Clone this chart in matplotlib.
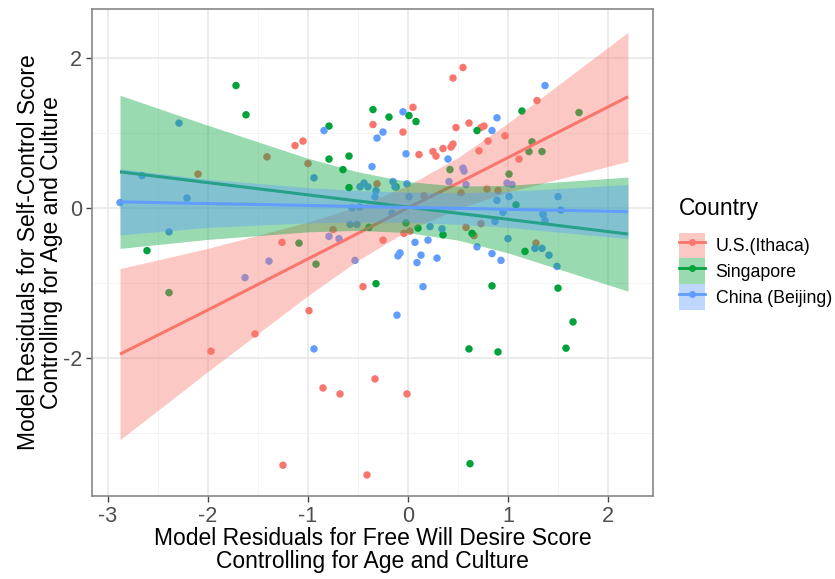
import matplotlib
matplotlib.use("Agg")
import matplotlib.pyplot as plt
from matplotlib.patches import Patch
from matplotlib.lines import Line2D
from matplotlib.ticker import MultipleLocator

plt.rcParams['font.family'] = ['Liberation Sans', 'DejaVu Sans']
plt.rcParams['axes.unicode_minus'] = False

countries = ["U.S.(Ithaca)", "Singapore", "China (Beijing)"]
colors = ["#F8766D", "#00A33A", "#619CFF"]

us_x = [-2.10, -1.41, -1.13, -1.05, -1.00, -0.35, -0.31, 0.05, -0.05, 0.11, 0.25, 0.28, 0.16,
        0.45, 0.55, 1.29, 0.61, 0.73, 0.76, 0.48, 0.97, 0.80, 0.45, 0.43, 0.35, 0.71, 1.11,
        0.79, 0.90, 0.53, -1.53, -1.97, -1.26, -0.75, -0.25, -0.45, -0.99, -0.04, 0.02, 0.58,
        0.66, 0.73, 1.28, -0.85, -0.68, -0.33, -0.01, -1.25, -0.41]
us_y = [0.45, 0.68, 0.83, 0.89, 0.59, 1.11, 0.32, 1.34, 1.01, 0.71, 0.75, 0.69, 0.16,
        1.73, 1.87, 1.43, 1.13, 1.07, 1.09, 1.07, 0.96, 0.89, 0.85, 0.81, 0.79, 0.76, 0.65,
        0.25, 0.23, 0.20, -1.68, -1.91, -0.46, -0.29, -0.43, -1.05, -1.37, -0.34, -0.31, -0.26,
        -0.37, -0.21, -0.47, -2.40, -2.48, -2.28, -2.48, -3.43, -3.56]

sg_x = [-1.72, -1.62, -0.79, -0.79, -0.65, -0.59, -0.59, -0.35, -0.19, 0.01, 0.08, -0.12,
        1.14, 1.71, 0.69, 1.24, 1.21, 1.34, 0.42, 1.01, 1.08, -2.61, -2.39, -1.09, -0.92,
        -0.39, -0.32, -0.02, 0.10, 0.35, 0.64, 1.17, 0.84, 1.50, 1.65, 0.61, 0.90, 1.58, 0.62]
sg_y = [1.63, 1.24, 1.09, 0.65, 0.51, 0.69, 0.27, 1.31, 1.21, 1.23, 1.15, 0.28,
        1.29, 1.27, 1.03, 0.88, 0.75, 0.75, 0.51, 0.45, 0.04, -0.57, -1.13, -0.47, -0.75,
        -0.26, -1.01, -0.20, -0.27, -0.36, -0.34, -0.58, -1.04, -1.07, -1.52, -1.88, -1.92, -1.87, -3.41]

cn_x = [-2.88, -2.66, -2.29, -2.21, -0.94, -0.84, -0.48, -0.44, -0.40, -0.31, -0.25, -0.36,
        -0.32, -0.33, -0.05, -0.02, -0.15, -0.13, -0.01, 0.01, -0.56, -0.48, 1.37, 0.89, 0.84,
        0.40, 0.55, 0.56, 0.41, 0.58, 0.99, 1.04, 0.89, 1.01, 1.50, 1.53, 1.35, 0.95, -2.39,
        -1.63, -1.39, -0.79, -0.69, -0.53, -0.58, -0.51, -0.11, -0.94, -0.10, -0.08, 0.07,
        0.20, 0.13, 0.09, 0.29, 0.15, 0.22, -0.16, 0.34, 0.87, 0.69, 0.84, 0.93, 1.00, 1.27,
        1.34, 1.41, 1.49, 1.35, 1.37]
cn_y = [0.07, 0.43, 1.13, 0.13, 0.40, 1.03, 0.28, 0.33, 0.28, 0.93, 1.01, 0.55,
        0.23, 0.15, 1.28, 0.72, 0.35, 0.28, 0.32, 0.15, 0.00, 0.01, 1.63, 1.20, 1.03,
        0.65, 0.53, 0.49, 0.35, 0.31, 0.33, 0.31, 0.10, 0.15, 0.15, -0.03, -0.08, -0.06, -0.32,
        -0.93, -0.71, -0.38, -0.41, -0.70, -0.22, -0.22, -1.43, -1.88, -0.64, -0.60, -0.46,
        -0.43, -0.63, -0.73, -0.67, -1.05, -0.25, -0.07, -0.28, -0.18, -0.52, -0.61, -0.70, -0.41, -0.54,
        -0.54, -0.63, -0.78, -0.09, -0.17]

# fitted lines and confidence bands
fit_x = [-2.88, -2.0, -1.0, -0.5, 0.0, 0.5, 1.0, 2.2]
us_fit = [-1.95, -1.36, -0.68, -0.34, 0.00, 0.33, 0.67, 1.48]
us_lo = [-3.09, -2.18, -1.17, -0.70, -0.30, -0.01, 0.21, 0.62]
us_hi = [-0.81, -0.54, -0.19, 0.02, 0.30, 0.67, 1.13, 2.34]
sg_fit = [0.48, 0.336, 0.173, 0.092, 0.01, -0.072, -0.153, -0.349]
sg_lo = [-0.54, -0.42, -0.32, -0.30, -0.33, -0.43, -0.60, -1.11]
sg_hi = [1.50, 1.10, 0.66, 0.48, 0.35, 0.29, 0.30, 0.41]
cn_fit = [0.08, 0.057, 0.032, 0.019, 0.006, -0.007, -0.02, -0.05]
cn_lo = [-0.36, -0.26, -0.20, -0.19, -0.19, -0.22, -0.26, -0.41]
cn_hi = [0.52, 0.38, 0.27, 0.23, 0.21, 0.20, 0.22, 0.31]

fig = plt.figure(figsize=(8.35, 5.79), dpi=100)
ax = fig.add_axes([92/835, 1-496/579, (653-92)/835, (496-9)/579])

ax.set_xlim(-3.16, 2.45)
ax.set_ylim(-3.84, 2.65)
ax.xaxis.set_major_locator(MultipleLocator(1))
ax.xaxis.set_minor_locator(MultipleLocator(0.5))
ax.yaxis.set_major_locator(MultipleLocator(2))
ax.yaxis.set_minor_locator(MultipleLocator(1))
ax.grid(which='major', color='#E6E6E6', linewidth=1.1, zorder=0)
ax.grid(which='minor', color='#F2F2F2', linewidth=0.6, zorder=0)
ax.set_axisbelow(True)
for sp in ax.spines.values():
    sp.set_color('#888888')
    sp.set_linewidth(1.2)
ax.tick_params(which='major', length=4, width=1.0, color='#444444',
               labelsize=15.5, labelcolor='#4D4D4D', pad=3)
ax.tick_params(which='minor', length=0)

groups = [(us_x, us_y, us_fit, us_lo, us_hi),
          (sg_x, sg_y, sg_fit, sg_lo, sg_hi),
          (cn_x, cn_y, cn_fit, cn_lo, cn_hi)]

for (gx, gy, _, _, _), c in zip(groups, colors):
    ax.scatter(gx, gy, s=29, color=c, edgecolors='none', zorder=2)

z = 3
for (_, _, f, lo, hi), c in zip(groups, colors):
    ax.fill_between(fit_x, lo, hi, color=c, alpha=0.4, linewidth=0, zorder=z)
    ax.plot(fit_x, f, color=c, linewidth=2.2, zorder=z + 0.5, solid_capstyle='butt')
    z += 1

ax.set_xlabel("Model Residuals for Free Will Desire Score\nControlling for Age and Culture",
              fontsize=16.5, color='black', labelpad=0, linespacing=1.02)
ax.set_ylabel("Model Residuals for Self-Control Score\nControlling for Age and Culture",
              fontsize=16.5, color='black', labelpad=0, linespacing=1.02)

handles = []
for c in colors:
    handles.append((Patch(facecolor=c, alpha=0.4, edgecolor='none'),
                    Line2D([], [], color=c, linewidth=2.0, marker='o', markersize=5,
                           markeredgecolor='none')))
leg = fig.legend(handles, countries, loc='upper left', bbox_to_anchor=(679/835, 1-197/579),
                 frameon=False, fontsize=12.8, title="Country", title_fontsize=16.5,
                 handlelength=1.46, handleheight=1.87, handletextpad=0.6, labelspacing=0.0,
                 borderaxespad=0, borderpad=0)
leg._legend_box.align = "left"
leg._legend_box.sep = 9

fig.savefig("out.png", dpi=100)
